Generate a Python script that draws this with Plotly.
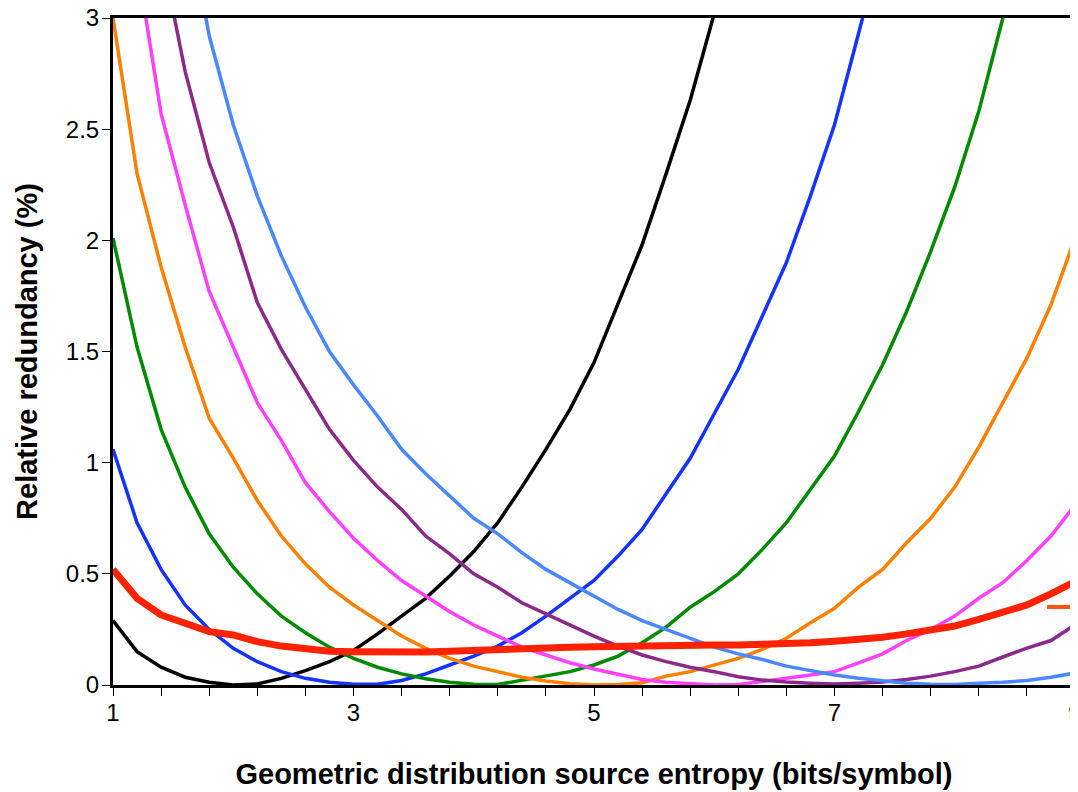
import plotly.graph_objects as go

# Source entropy grid (bits/symbol)
entropy = [1.0, 1.2, 1.4, 1.6, 1.8, 2.0, 2.2, 2.4, 2.6, 2.8, 3.0, 3.2, 3.4, 3.6, 3.8,
           4.0, 4.2, 4.4, 4.6, 4.8, 5.0, 5.2, 5.4, 5.6, 5.8, 6.0, 6.2, 6.4, 6.6, 6.8,
           7.0, 7.2, 7.4, 7.6, 7.8, 8.0, 8.2, 8.4, 8.6, 8.8, 9.0]

N = None
black_vals = [0.29, 0.15, 0.08, 0.035, 0.012, 0.0, 0.005, 0.03, 0.065, 0.105, 0.155, 0.23, 0.31, 0.39, 0.49,
              0.60, 0.73, 0.89, 1.06, 1.24, 1.45, 1.72, 1.98, 2.30, 2.63, 3.02, N, N, N, N,
              N, N, N, N, N, N, N, N, N, N, N]
blue_vals = [1.06, 0.73, 0.52, 0.36, 0.25, 0.165, 0.105, 0.06, 0.03, 0.012, 0.003, 0.003, 0.02, 0.05, 0.09,
             0.13, 0.175, 0.235, 0.31, 0.39, 0.47, 0.58, 0.70, 0.86, 1.02, 1.22, 1.42, 1.66, 1.90, 2.20,
             2.52, 2.93, 3.35, N, N, N, N, N, N, N, N]
green_vals = [2.01, 1.52, 1.15, 0.89, 0.68, 0.53, 0.41, 0.31, 0.235, 0.17, 0.12, 0.08, 0.05, 0.028, 0.012,
              0.003, 0.002, 0.02, 0.04, 0.06, 0.09, 0.13, 0.19, 0.26, 0.35, 0.42, 0.50, 0.61, 0.73, 0.88,
              1.03, 1.23, 1.44, 1.68, 1.95, 2.24, 2.58, 3.0, N, N, N]
orange_vals = [3.0, 2.30, 1.88, 1.52, 1.20, 1.02, 0.83, 0.67, 0.545, 0.44, 0.36, 0.29, 0.22, 0.165, 0.12,
               0.085, 0.058, 0.035, 0.018, 0.006, 0.0, 0.002, 0.01, 0.04, 0.06, 0.09, 0.12, 0.16, 0.21, 0.28,
               0.345, 0.44, 0.52, 0.64, 0.75, 0.89, 1.07, 1.27, 1.47, 1.71, 2.01]
magenta_vals = [N, 3.25, 2.57, 2.16, 1.77, 1.52, 1.27, 1.10, 0.91, 0.78, 0.66, 0.56, 0.47, 0.40, 0.33,
                0.27, 0.22, 0.17, 0.135, 0.10, 0.072, 0.05, 0.025, 0.012, 0.005, 0.0, 0.002, 0.015, 0.03, 0.045,
                0.06, 0.10, 0.14, 0.20, 0.25, 0.31, 0.39, 0.46, 0.56, 0.67, 0.81]
purple_vals = [N, N, 3.3, 2.76, 2.35, 2.06, 1.72, 1.51, 1.33, 1.15, 1.01, 0.89, 0.79, 0.67, 0.59,
               0.50, 0.44, 0.37, 0.32, 0.27, 0.22, 0.175, 0.135, 0.105, 0.08, 0.06, 0.037, 0.022, 0.013, 0.008,
               0.005, 0.008, 0.013, 0.025, 0.04, 0.06, 0.085, 0.126, 0.166, 0.20, 0.27]
lightblue_vals = [N, N, N, 3.5, 2.92, 2.52, 2.20, 1.93, 1.70, 1.50, 1.35, 1.21, 1.06, 0.95, 0.85,
                  0.75, 0.68, 0.595, 0.52, 0.46, 0.40, 0.34, 0.29, 0.25, 0.21, 0.17, 0.14, 0.115, 0.085, 0.065,
                  0.045, 0.03, 0.018, 0.008, 0.003, 0.002, 0.008, 0.012, 0.02, 0.035, 0.054]
red_vals = [0.52, 0.39, 0.315, 0.275, 0.24, 0.225, 0.195, 0.175, 0.16, 0.152, 0.15, 0.148, 0.148, 0.148, 0.152,
            0.157, 0.16, 0.163, 0.167, 0.17, 0.172, 0.175, 0.177, 0.18, 0.18, 0.18, 0.18, 0.182, 0.185, 0.19,
            0.197, 0.205, 0.215, 0.23, 0.245, 0.265, 0.295, 0.325, 0.36, 0.41, 0.465]

y_ticks = [0, 0.5, 1, 1.5, 2, 2.5, 3]
y_tick_text = ["0", "0.5", "1", "1.5", "2", "2.5", "3"]
x_ticks = [1, 3, 5, 7, 9]

series = [
    ("black", black_vals, "#000000", 3.5),
    ("blue", blue_vals, "#1433FF", 3.5),
    ("green", green_vals, "#008A00", 3.5),
    ("orange", orange_vals, "#FF8000", 3.5),
    ("magenta", magenta_vals, "#FF40FF", 3.5),
    ("purple", purple_vals, "#8C2A8C", 3.5),
    ("lightblue", lightblue_vals, "#4A88FF", 3.5),
    ("red", red_vals, "#FF2200", 7),
]

fig = go.Figure()
for name, vals, color, w in series:
    fig.add_trace(go.Scatter(x=entropy, y=vals, mode="lines", name=name,
                             line=dict(color=color, width=w), connectgaps=False,
                             showlegend=False))

font_family = "Arial, Liberation Sans, sans-serif"

fig.update_layout(
    width=1070, height=784,
    margin=dict(l=105, r=3, t=10, b=107, autoexpand=False),
    paper_bgcolor="white", plot_bgcolor="white",
    font=dict(family=font_family, color="black", size=24),
    showlegend=False,
    xaxis=dict(
        range=[1, 9], tickvals=x_ticks, ticktext=[str(v) for v in x_ticks],
        ticks="outside", ticklen=8, tickwidth=1, tickcolor="black",
        minor=dict(dtick=0.4, tick0=1, ticks="outside", ticklen=8, tickwidth=1, tickcolor="black"),
        showgrid=False, zeroline=False,
        showline=True, linecolor="black", linewidth=3, mirror=True,
        tickfont=dict(size=24, family=font_family),
        ticklabelstandoff=-4, ticklabeloverflow="allow",
        title=dict(text="<b>Geometric distribution source entropy (bits/symbol)</b>",
                   font=dict(size=29, family=font_family), standoff=39),
    ),
    yaxis=dict(
        range=[0, 3], tickvals=y_ticks, ticktext=y_tick_text,
        ticks="outside", ticklen=8, tickwidth=1, tickcolor="black",
        showgrid=False, zeroline=False,
        showline=True, linecolor="black", linewidth=3, mirror=True,
        tickfont=dict(size=24, family=font_family),
        ticklabelstandoff=-2, ticklabeloverflow="allow",
        title=dict(text="<b>Relative redundancy (%)</b>",
                   font=dict(size=29, family=font_family), standoff=20),
    ),
    shapes=[dict(type="line", xref="paper", yref="paper",
                 x0=0.971, x1=1.004, y0=0.117, y1=0.117,
                 line=dict(color="#FF5500", width=4))],
)

fig.write_html("out.html")
